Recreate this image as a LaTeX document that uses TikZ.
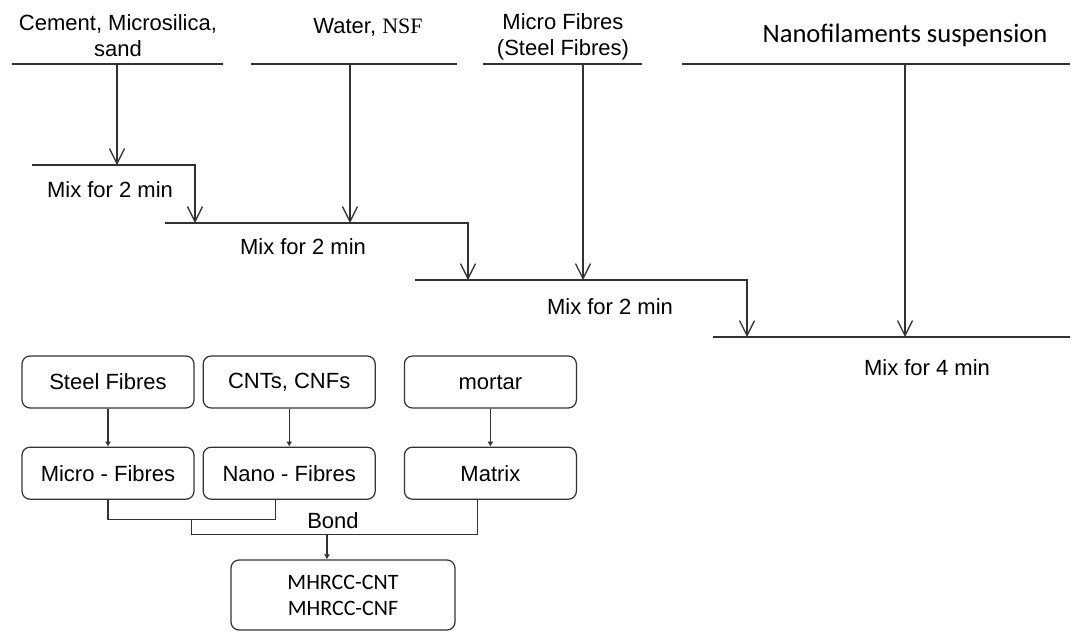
\documentclass[tikz,border=0pt]{standalone}
\usepackage{fontspec}
\setmainfont{Liberation Sans}
\newfontfamily\calfont{Carlito}
\newfontfamily\serfont{Liberation Serif}
\usetikzlibrary{arrows.meta,positioning,calc}
\definecolor{linegray}{RGB}{50,50,50}

\begin{document}
\begin{tikzpicture}[x=0.5pt, y=-0.5pt,
    feed/.style={font=\fontsize{11}{13}\selectfont, align=center, inner sep=0pt},
    mixlbl/.style={font=\fontsize{11}{13}\selectfont, inner sep=0pt},
    bar/.style={line width=0.65pt, draw=linegray},
    flow/.style={line width=0.65pt, draw=linegray, -{Straight Barb[length=7.5pt,width=7.5pt]}},
    comp/.style={rectangle, rounded corners=4pt, minimum width=86pt, minimum height=26pt, draw=linegray, line width=0.6pt, font=\fontsize{11}{13}\selectfont, text centered},
    link/.style={line width=0.6pt, draw=linegray, -{Latex[length=2.5pt,width=3pt]}}
]
\useasboundingbox (0,0) rectangle (1078,633);

% Bahan masuk
\node[feed] (cem) at (118,36) {Cement, Microsilica,\\sand};
\node[feed] (wat) at (368,27) {Water, {\serfont NSF}};
\node[feed] (mic) at (563,37) {Micro Fibres\\(Steel Fibres)};
\node[feed, font=\calfont\fontsize{13.3}{16}\selectfont] (nan) at (905,35) {Nanofilaments suspension};

\coordinate (b1L) at (12,64);  \coordinate (b1R) at (223,64);
\coordinate (b2L) at (251,64); \coordinate (b2R) at (457,64);
\coordinate (b3L) at (483,64); \coordinate (b3R) at (642,64);
\coordinate (b4L) at (682,64); \coordinate (b4R) at (1070,64);
\draw[bar] (b1L) -- (b1R);
\draw[bar] (b2L) -- (b2R);
\draw[bar] (b3L) -- (b3R);
\draw[bar] (b4L) -- (b4R);

% Tahap pencampuran
\coordinate (m1L) at (32,165);  \coordinate (m1R) at (195,165);
\coordinate (m2L) at (165,223); \coordinate (m2R) at (468,223);
\coordinate (m3L) at (415,280); \coordinate (m3R) at (747,280);
\coordinate (m4L) at (713,337); \coordinate (m4R) at (1070,337);

\coordinate (f1) at (117,64);
\coordinate (f2) at (350,64);
\coordinate (f3) at (583,64);
\coordinate (f4) at (905,64);
\draw[flow] (f1) -- (f1 |- m1L);
\draw[flow] (f2) -- (f2 |- m2L);
\draw[flow] (f3) -- (f3 |- m3L);
\draw[flow] (f4) -- (f4 |- m4L);

\draw[flow] (m1L) -- (m1R) -- (m1R |- m2L);
\draw[flow] (m2L) -- (m2R) -- (m2R |- m3L);
\draw[flow] (m3L) -- (m3R) -- (m3R |- m4L);
\draw[bar] (m4L) -- (m4R);

\node[mixlbl] (mixa) at (110,190) {Mix for 2 min};
\node[mixlbl] (mixb) at (303,247) {Mix for 2 min};
\node[mixlbl] (mixc) at (610,307) {Mix for 2 min};
\node[mixlbl] (mixd) at (927,368) {Mix for 4 min};

% Komponen
\node (steel) [comp] at (108,382) {Steel Fibres};
\node (cnt) [comp, right=4pt of steel] {CNTs, CNFs};
\node (mortar) [comp, right=14pt of cnt] {mortar};
\node (micro) [comp, below=19pt of steel] {Micro - Fibres};
\node (nano) [comp, below=19pt of cnt] {Nano - Fibres};
\node (matrix) [comp, below=19pt of mortar] {Matrix};
\node (result) [comp, minimum width=112pt, minimum height=35pt, align=center, font=\calfont\fontsize{11}{13}\selectfont] at (343,595) {MHRCC-CNT\\MHRCC-CNF};

\draw[link] (steel.south) -- (micro.north);
\draw[link] (cnt.south) -- (nano.north);
\draw[link] (mortar.south) -- (matrix.north);

% Ikatan
\coordinate (nanoj) at ([xshift=-7pt]nano.south);
\coordinate (matj) at ([xshift=-6.5pt]matrix.south);
\draw[bar] (micro.south) -- ++(0,20) coordinate (bl) -| (nanoj);
\coordinate (bm) at ($(bl)!0.5!(bl -| nanoj)$);
\draw[bar] (bm) -- ++(0,15) coordinate (bb) -| (matj);
\draw[link] ([xshift=-8pt]result.north |- bb) -- ([xshift=-8pt]result.north);
\node[mixlbl] (bond) at (333,521) {Bond};

\end{tikzpicture}
\end{document}
